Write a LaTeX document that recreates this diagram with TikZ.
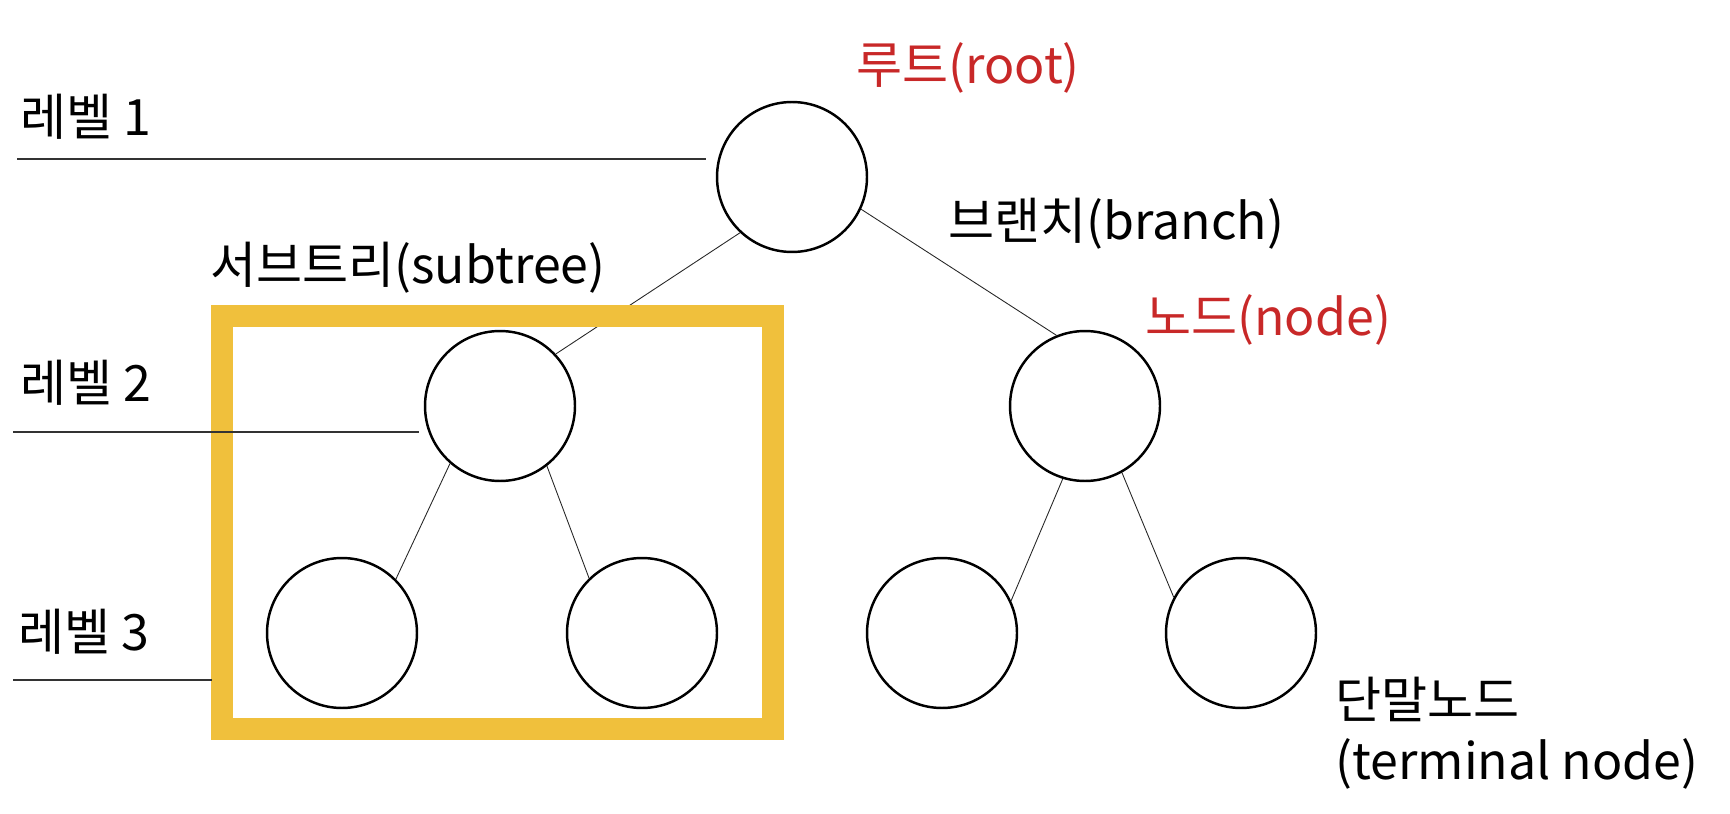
\documentclass[tikz,border=0pt]{standalone}
\usepackage{fontspec}
\setmainfont{Noto Sans CJK KR}
\definecolor{labelred}{RGB}{200,40,40}
\definecolor{subtreeyellow}{RGB}{240,192,60}

\tikzset{
  treenode/.style={circle, draw, line width=1.4pt, minimum size=3cm, inner sep=0pt},
  branchline/.style={line width=0.5pt, black!85},
  levelline/.style={line width=1pt, black!80},
  lbl/.style={anchor=west, inner sep=0pt, font=\fontsize{28.5}{35}\selectfont},
}

\begin{document}
\begin{tikzpicture}[x=0.02cm, y=-0.02cm]
	\useasboundingbox (0,0) rectangle (1730,814);
	
	% tree nodes
	\node[treenode] (root) at (792,177) {};
	\node[treenode] (left) at (500,406) {};
	\node[treenode] (right) at (1085,406) {};
	\node[treenode] (leftleft) at (342,633) {};
	\node[treenode] (leftright) at (642,633) {};
	\node[treenode] (rightleft) at (942,633) {};
	\node[treenode] (rightright) at (1241,633) {};
	
	\draw[branchline] (root.227) -- (left.43);
	
	% subtree box
	\draw[subtreeyellow, line width=12pt] (222,316) rectangle (773,729);
	
	\draw[branchline] (root.335) -- (right.112);
	\draw[branchline] (left.229) -- (leftleft.45);
	\draw[branchline] (left.308) -- (leftright.134);
	\draw[branchline] (right.253) -- (rightleft.25);
	\draw[branchline] (right.299) -- (rightright.152);
	
	% levels
	\coordinate (lv1end) at (17,159);
	\coordinate (lv2end) at (13,432);
	\coordinate (lv3end) at (13,680);
	\draw[levelline] (lv1end) -- ([xshift=-0.2cm]root.west |- lv1end);
	\draw[levelline] (lv2end) -- ([xshift=-0.1cm]left.west |- lv2end);
	\draw[levelline] (lv3end) -- (212,680);
	\node[lbl] (lv1) at (20,117) {레벨 1};
	\node[lbl] (lv2) at (20,383) {레벨 2};
	\node[lbl] (lv3) at (18,632) {레벨 3};
	
	% labels
	\node[lbl, labelred] (rootlbl) at (856,68) {루트(root)};
	\node[lbl] (branchlbl) at (948,224) {브랜치(branch)};
	\node[lbl] (subtreelbl) at (210,268) {서브트리(subtree)};
	\node[lbl, labelred] (nodelbl) at (1145,320) {노드(node)};
	\node[lbl, align=left] (termlbl) at (1335,733) {단말노드\\(terminal node)};
\end{tikzpicture}
\end{document}
